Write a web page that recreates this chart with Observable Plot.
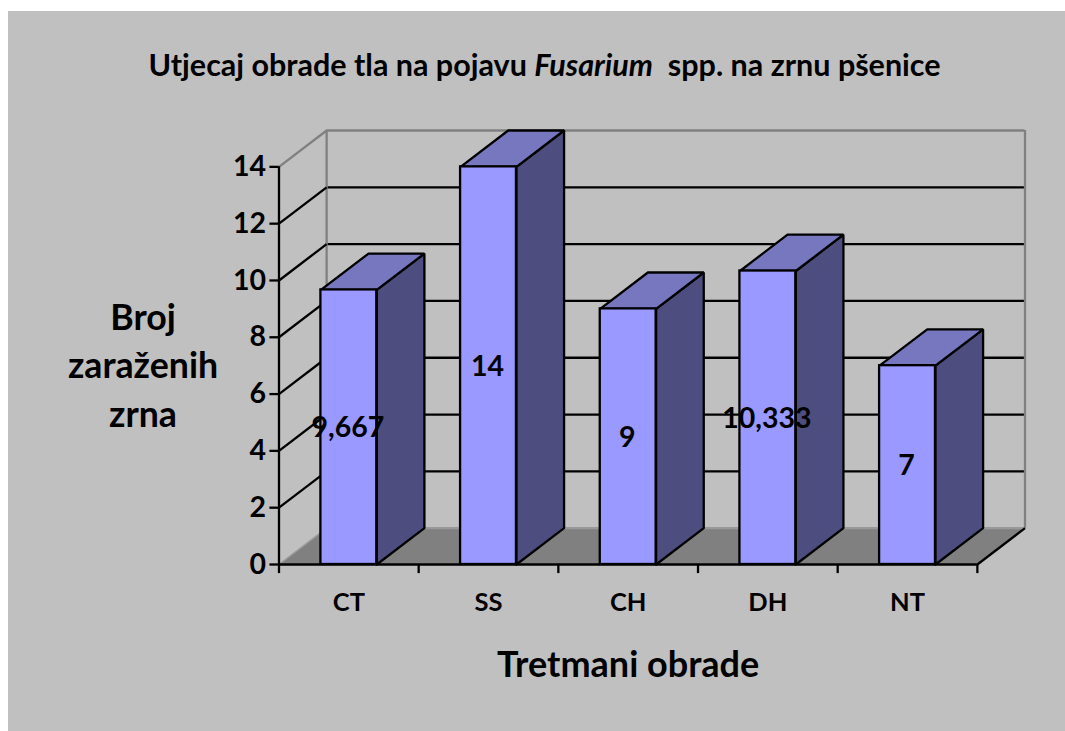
<!DOCTYPE html>
<html><head><meta charset="utf-8">
<script src="https://cdn.jsdelivr.net/npm/d3@7"></script>
<script src="https://cdn.jsdelivr.net/npm/@observablehq/plot@0.6"></script>
<style>
html,body{margin:0;padding:0;background:#fff;overflow:hidden;width:1065px;height:731px}
#panel{position:absolute;left:8px;top:11px;width:1057px;height:720px;background:#c0c0c0;font-family:Lato,sans-serif}
#title{position:absolute;left:0;width:1073px;top:36px;text-align:center;font-weight:700;font-size:30.5px;line-height:34px;color:#000;white-space:pre}
svg{position:absolute;left:0;top:0;background:none!important}
</style></head><body>
<div id="panel"><div id="title">Utjecaj obrade tla na pojavu <i>Fusarium</i>  spp. na zrnu pšenice</div></div>
<script>
const categories = ["CT","SS","CH","DH","NT"];
const values = [9.667,14,9,10.333,7];
const valueLabels = ["9,667","14","9","10,333","7"];
const yTicks = [0,2,4,6,8,10,12,14];
const xTitle = "Tretmani obrade";
const yTitle = "Broj\nzaraženih\nzrna";

const depthX = 0.341, depthY = 1.28, barWidth = 0.4;
const n = categories.length, yMax = 14;
const poly = (id, pts) => pts.concat([pts[0]]).map(([x,y]) => ({id,x,y}));

const floor = poly("floor", [[0,0],[n,0],[n+depthX,depthY],[depthX,depthY]]);
const bars = categories.map((c,i)=>{
  const x0 = i+0.5-barWidth/2, x1 = i+0.5+barWidth/2, v = values[i];
  return {c, v, x0, x1, label: valueLabels[i], xc: i+0.5,
    top: poly(c+"t",[[x0,v],[x1,v],[x1+depthX,v+depthY],[x0+depthX,v+depthY]]),
    side: poly(c+"s",[[x1,0],[x1+depthX,depthY],[x1+depthX,v+depthY],[x1,v]])};
});
const innerTicks = yTicks.filter(t=>t>0 && t<yMax);
const black="#000", grey="#808080", sw=2.3;

const marks = [
  Plot.line(floor,{x:"x",y:"y",z:"id",fill:"#808080",stroke:"none"}),
  // back wall
  Plot.ruleY(innerTicks,{y:d=>d+depthY,x1:depthX,x2:n+depthX,stroke:black,strokeWidth:sw}),
  Plot.ruleY([yMax],{y:d=>d+depthY,x1:depthX,x2:n+depthX,stroke:grey,strokeWidth:sw}),
  Plot.ruleY([0],{y:d=>d+depthY,x1:depthX,x2:n+depthX,stroke:"#999999",strokeWidth:sw}),
  Plot.ruleX([depthX,n+depthX],{y1:depthY,y2:yMax+depthY,stroke:grey,strokeWidth:sw}),
  // side wall
  Plot.link(innerTicks,{x1:0,x2:depthX,y1:d=>d,y2:d=>d+depthY,stroke:black,strokeWidth:sw}),
  Plot.link([yMax],{x1:0,x2:depthX,y1:d=>d,y2:d=>d+depthY,stroke:grey,strokeWidth:sw}),
  Plot.link([0],{x1:0,x2:depthX,y1:d=>d,y2:d=>d+depthY,stroke:"#999999",strokeWidth:1.5}),
  // floor right edge
  Plot.link([n],{x1:d=>d,x2:d=>d+depthX,y1:0,y2:depthY,stroke:black,strokeWidth:sw}),
  // bars
  Plot.line(bars.flatMap(b=>b.side),{x:"x",y:"y",z:"id",fill:"#4d4d80",stroke:black,strokeWidth:sw,strokeLinejoin:"miter"}),
  Plot.line(bars.flatMap(b=>b.top),{x:"x",y:"y",z:"id",fill:"#7777bf",stroke:black,strokeWidth:sw,strokeLinejoin:"miter"}),
  Plot.rect(bars,{x1:"x0",x2:"x1",y1:0,y2:"v",fill:"#9999ff",stroke:black,strokeWidth:sw}),
  // front axes
  Plot.ruleX([0],{y1:0,y2:yMax,stroke:black,strokeWidth:sw}),
  Plot.ruleY([0],{x1:0,x2:n,stroke:black,strokeWidth:2.6}),
  Plot.ruleY(yTicks,{x1:-0.065,x2:0,stroke:black,strokeWidth:sw}),
  Plot.ruleX(d3.range(n+1),{y1:0,y2:-0.32,stroke:black,strokeWidth:sw}),
  // tick labels
  Plot.text(yTicks,{x:0,y:d=>d,text:d=>String(d),textAnchor:"end",dx:-13,dy:0,fontSize:28.5,fontWeight:700,fill:black}),
  Plot.text(bars,{x:"xc",y:0,text:"c",dy:38,fontSize:25.5,fontWeight:700,fill:black}),
  Plot.text(bars,{x:"xc",y:d=>d.v/2,text:"label",dx:-1,dy:1,fontSize:28.5,fontWeight:700,fill:black}),
  // axis titles
  Plot.text([xTitle],{x:n/2,y:0,text:d=>d,dy:101,fontSize:36,fontWeight:700,fill:black}),
  Plot.text([yTitle],{x:0,y:7.1,text:d=>d,dx:-136,lineHeight:1.37,fontSize:35.7,fontWeight:700,fill:black})
];

const chart = Plot.plot({
  width:1057,height:720,
  marginLeft:270.5,marginRight:40.5,marginTop:119,marginBottom:167,
  x:{domain:[0,n+depthX],axis:null},
  y:{domain:[0,yMax+depthY],axis:null},
  style:{fontFamily:"Lato,sans-serif",background:"none",overflow:"visible"},
  marks
});
document.getElementById("panel").prepend(chart);
</script>
</body></html>
